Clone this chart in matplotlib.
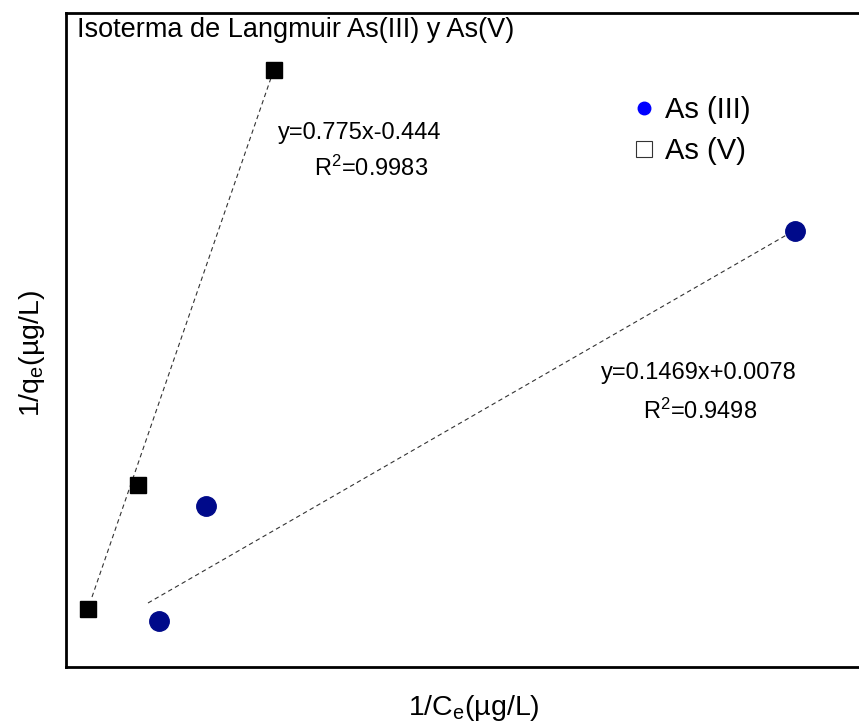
import matplotlib
matplotlib.use("Agg")
from matplotlib import pyplot as plt
from matplotlib.lines import Line2D

plt.rcParams['font.family'] = ['Liberation Sans', 'DejaVu Sans']
plt.rcParams['mathtext.fontset'] = 'custom'
plt.rcParams['mathtext.rm'] = 'Liberation Sans'
plt.rcParams['mathtext.it'] = 'Liberation Sans:italic'

# values (axes carry no ticks, so units are arbitrary)
as5_x = [2.2, 7.2, 20.8]
as5_y = [5.8, 18.2, 59.7]
as3_x = [9.3, 14.0, 72.9]
as3_y = [4.6, 16.1, 43.6]

# fitted lines, end points
fit5_x = [2.6, 20.6]
fit5_y = [7.0, 59.2]
fit3_x = [8.2, 72.4]
fit3_y = [6.4, 43.4]

eq5 = ["y=0.775x-0.444", "R$^2$=0.9983"]
eq3 = ["y=0.1469x+0.0078", "R$^2$=0.9498"]

fig = plt.figure(figsize=(8.59, 7.25), dpi=100)
# right spine sits beyond the picture edge
ax = fig.add_axes([66 / 859, 58 / 725, 816 / 859, 654 / 725])
ax.set_xlim(0, 81.6)
ax.set_ylim(0, 65.4)

ax.plot(fit5_x, fit5_y, ls=(0, (4, 3)), color='#333333', lw=0.8)
ax.plot(fit3_x, fit3_y, ls=(0, (4, 3)), color='#333333', lw=0.8)
ax.plot(as5_x, as5_y, 's', color='black', ms=12, ls='none')
ax.plot(as3_x, as3_y, 'o', color='#000a8a', ms=14, ls='none')

ax.text(1.1, 63.7, "Isoterma de Langmuir As(III) y As(V)", fontsize=19.5, va='center', ha='left')
ax.text(29.4, 53.4, eq5[0], fontsize=17, ha='center', va='center')
ax.text(30.5, 49.9, eq5[1], fontsize=17, ha='center', va='center')
ax.text(63.3, 29.4, eq3[0], fontsize=17, ha='center', va='center')
ax.text(63.4, 25.6, eq3[1], fontsize=17, ha='center', va='center')

handles = [
    Line2D([], [], marker='o', color='#0000ff', ls='none', ms=9),
    Line2D([], [], marker='s', markerfacecolor='white', markeredgecolor='#333333',
           markeredgewidth=0.8, ls='none', ms=11),
]
ax.legend(handles, ["As (III)", "As (V)"], loc='upper left', bbox_to_anchor=(0.662, 0.913),
          frameon=False, fontsize=21, handlelength=0.8, handletextpad=0.3, labelspacing=0.45)

ax.set_xticks([])
ax.set_yticks([])
for s in ['left', 'top', 'bottom']:
    ax.spines[s].set_linewidth(2)
ax.spines['right'].set_visible(False)

ax.set_xlabel("1/C$_\\mathrm{e}$(µg/L)", fontsize=20.5, labelpad=19)
ax.set_ylabel("1/q$_\\mathrm{e}$(µg/L)", fontsize=20.5, labelpad=13.5)
ax.yaxis.label.set_y(0.48)

fig.savefig("out.png", dpi=100)
